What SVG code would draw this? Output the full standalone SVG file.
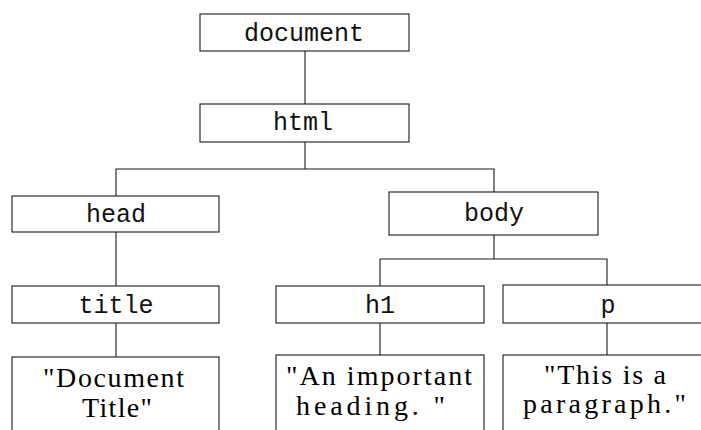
<svg xmlns="http://www.w3.org/2000/svg" width="701" height="430" viewBox="0 0 701 430">
  <style>
    .box { fill: #fff; stroke: #1a1a1a; stroke-width: 1.1; }
    .tag { font-family: "Liberation Mono", "DejaVu Sans Mono", monospace; font-size: 25px; fill: #111; text-anchor: middle; }
    .txt { font-family: "Liberation Serif", "DejaVu Serif", serif; font-size: 28px; fill: #000; }
    .wire { fill: none; stroke: #1a1a1a; stroke-width: 1.1; }
  </style>
  <rect width="701" height="430" fill="#fff"/>

  <!-- tree edges -->
  <g id="connectors">
    <path class="wire" d="M305 51 V104"/>
    <path class="wire" d="M305 142 V169 M116 196 V169 H494 V192"/>
    <path class="wire" d="M116 232 V286"/>
    <path class="wire" d="M116 323 V357"/>
    <path class="wire" d="M494 235 V259 M380 286 V259 H607 V285"/>
    <path class="wire" d="M380 323 V355"/>
    <path class="wire" d="M607 323 V355"/>
  </g>

  <g id="document">
    <rect class="box" x="200" y="14" width="209" height="37"/>
    <text class="tag" x="304" y="41">document</text>
  </g>
  <g id="html">
    <rect class="box" x="200" y="104" width="209" height="38"/>
    <text class="tag" x="303" y="130">html</text>
  </g>
  <g id="head">
    <rect class="box" x="12" y="196" width="207" height="36"/>
    <text class="tag" x="116" y="222">head</text>
  </g>
  <g id="body">
    <rect class="box" x="389" y="192" width="209" height="43"/>
    <text class="tag" x="494" y="221">body</text>
  </g>
  <g id="title">
    <rect class="box" x="12" y="286" width="207" height="37"/>
    <text class="tag" x="116" y="313">title</text>
  </g>
  <g id="h1">
    <rect class="box" x="276" y="286" width="208" height="37"/>
    <text class="tag" x="380" y="313">h1</text>
  </g>
  <g id="p">
    <rect class="box" x="503" y="285" width="209" height="38"/>
    <text class="tag" x="608" y="313">p</text>
  </g>
  <g id="title-text">
    <rect class="box" x="12" y="357" width="207" height="80"/>
    <text class="txt" x="43" y="387" textLength="141" lengthAdjust="spacing">"Document</text>
    <text class="txt" x="82" y="417" textLength="70" lengthAdjust="spacing">Title"</text>
  </g>
  <g id="h1-text">
    <rect class="box" x="276" y="355" width="208" height="80"/>
    <text class="txt" x="286" y="385" textLength="186" lengthAdjust="spacing">"An important</text>
    <text class="txt" x="296" y="415" textLength="149" lengthAdjust="spacing">heading. "</text>
  </g>
  <g id="p-text">
    <rect class="box" x="503" y="355" width="209" height="80"/>
    <text class="txt" x="544" y="384" textLength="122" lengthAdjust="spacing">"This is a</text>
    <text class="txt" x="523" y="413" textLength="163" lengthAdjust="spacing">paragraph."</text>
  </g>
</svg>
